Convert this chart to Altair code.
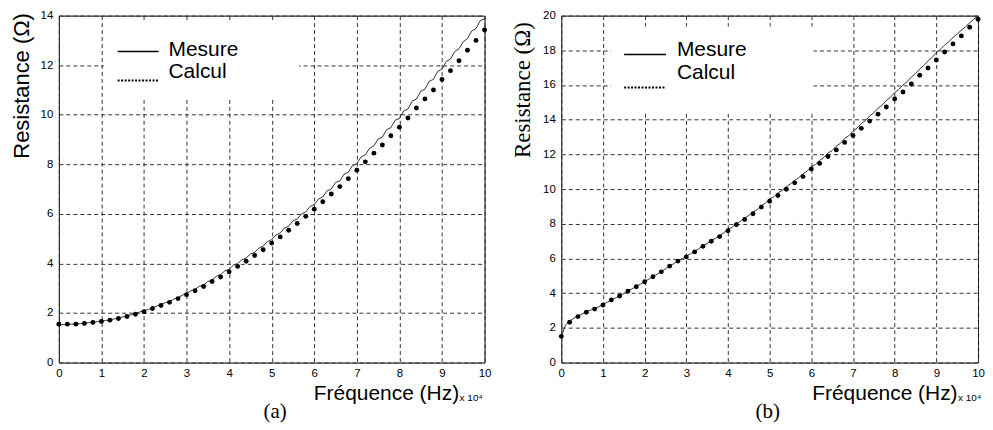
import altair as alt
import pandas as pd

# ---------------- data (frequency in units of 10^4 Hz, resistance in ohm) ----------------
F_CALC = [0.0, 0.2, 0.4, 0.6, 0.8, 1.0, 1.2, 1.4, 1.6, 1.8,
          2.0, 2.2, 2.4, 2.6, 2.8, 3.0, 3.2, 3.4, 3.6, 3.8,
          4.0, 4.2, 4.4, 4.6, 4.8, 5.0, 5.2, 5.4, 5.6, 5.8,
          6.0, 6.2, 6.4, 6.6, 6.8, 7.0, 7.2, 7.4, 7.6, 7.8,
          8.0, 8.2, 8.4, 8.6, 8.8, 9.0, 9.2, 9.4, 9.6, 9.8, 10.0]

F_MES = [0.0, 0.1, 0.2, 0.3, 0.4, 0.5, 0.6, 0.7, 0.8, 0.9,
         1.0, 1.1, 1.2, 1.3, 1.4, 1.5, 1.6, 1.7, 1.8, 1.9,
         2.0, 2.1, 2.2, 2.3, 2.4, 2.5, 2.6, 2.7, 2.8, 2.9,
         3.0, 3.1, 3.2, 3.3, 3.4, 3.5, 3.6, 3.7, 3.8, 3.9,
         4.0, 4.1, 4.2, 4.3, 4.4, 4.5, 4.6, 4.7, 4.8, 4.9,
         5.0, 5.1, 5.2, 5.3, 5.4, 5.5, 5.6, 5.7, 5.8, 5.9,
         6.0, 6.1, 6.2, 6.3, 6.4, 6.5, 6.6, 6.7, 6.8, 6.9,
         7.0, 7.1, 7.2, 7.3, 7.4, 7.5, 7.6, 7.7, 7.8, 7.9,
         8.0, 8.1, 8.2, 8.3, 8.4, 8.5, 8.6, 8.7, 8.8, 8.9,
         9.0, 9.1, 9.2, 9.3, 9.4, 9.5, 9.6, 9.7, 9.8, 9.9, 10.0]

# panel (a)
R_CALC_A = [1.55, 1.55, 1.55, 1.58, 1.62, 1.66, 1.71, 1.78, 1.86, 1.95,
            2.05, 2.18, 2.30, 2.43, 2.58, 2.74, 2.90, 3.07, 3.27, 3.45,
            3.66, 3.88, 4.09, 4.32, 4.55, 4.82, 5.07, 5.34, 5.61, 5.90,
            6.19, 6.49, 6.80, 7.10, 7.42, 7.76, 8.10, 8.45, 8.78, 9.15,
            9.50, 9.87, 10.27, 10.64, 11.00, 11.42, 11.78, 12.18, 12.60, 13.00, 13.42]

R_MES_A = [1.52, 1.53, 1.54, 1.55, 1.56, 1.57, 1.58, 1.61, 1.63, 1.65,
           1.67, 1.70, 1.72, 1.76, 1.80, 1.84, 1.88, 1.93, 1.98, 2.04,
           2.10, 2.14, 2.20, 2.28, 2.33, 2.42, 2.45, 2.56, 2.61, 2.72,
           2.78, 2.90, 2.95, 3.08, 3.13, 3.27, 3.33, 3.48, 3.55, 3.70,
           3.76, 3.93, 3.99, 4.15, 4.22, 4.38, 4.45, 4.62, 4.70, 4.88,
           4.96, 5.15, 5.23, 5.43, 5.50, 5.72, 5.79, 6.00, 6.08, 6.30,
           6.38, 6.60, 6.68, 6.93, 7.00, 7.27, 7.33, 7.60, 7.68, 7.95,
           8.03, 8.30, 8.38, 8.65, 8.74, 9.02, 9.10, 9.40, 9.48, 9.78,
           9.85, 10.15, 10.23, 10.55, 10.63, 10.95, 11.03, 11.35, 11.43, 11.75,
           11.84, 12.15, 12.25, 12.55, 12.66, 12.95, 13.07, 13.38, 13.48, 13.80, 13.88]

# panel (b)
R_CALC_B = [1.51, 2.32, 2.65, 2.90, 3.08, 3.32, 3.61, 3.84, 4.12, 4.37,
            4.66, 4.95, 5.23, 5.56, 5.85, 6.09, 6.38, 6.70, 6.99, 7.26,
            7.60, 7.95, 8.25, 8.58, 8.96, 9.30, 9.63, 9.99, 10.36, 10.72,
            11.16, 11.48, 11.88, 12.26, 12.69, 13.09, 13.50, 13.92, 14.32, 14.73,
            15.20, 15.60, 16.06, 16.56, 16.98, 17.44, 17.90, 18.37, 18.83, 19.33, 19.79]

R_MES_B = [1.50, 2.15, 2.40, 2.55, 2.68, 2.80, 2.92, 3.02, 3.12, 3.22,
           3.35, 3.47, 3.62, 3.72, 3.87, 3.98, 4.14, 4.25, 4.40, 4.52,
           4.68, 4.80, 4.97, 5.09, 5.26, 5.39, 5.58, 5.70, 5.88, 5.98,
           6.14, 6.27, 6.42, 6.56, 6.74, 6.86, 7.04, 7.16, 7.32, 7.48,
           7.68, 7.80, 8.02, 8.14, 8.33, 8.48, 8.67, 8.82, 9.05, 9.19,
           9.42, 9.56, 9.78, 9.92, 10.14, 10.30, 10.50, 10.66, 10.88, 11.04,
           11.28, 11.42, 11.66, 11.82, 12.08, 12.22, 12.48, 12.64, 12.92, 13.08,
           13.34, 13.52, 13.78, 13.95, 14.22, 14.40, 14.66, 14.84, 15.10, 15.30,
           15.56, 15.74, 16.00, 16.20, 16.46, 16.66, 16.92, 17.13, 17.38, 17.60,
           17.86, 18.07, 18.30, 18.50, 18.74, 18.94, 19.16, 19.36, 19.58, 19.80, 20.00]

X_TICKS = [0, 1, 2, 3, 4, 5, 6, 7, 8, 9, 10]
Y_TICKS_A = [0, 2, 4, 6, 8, 10, 12, 14]
Y_TICKS_B = [0, 2, 4, 6, 8, 10, 12, 14, 16, 18, 20]
LEGEND = ["Mesure", "Calcul"]
X_TITLE = "Fréquence (Hz)"
Y_TITLE = "Resistance (Ω)"
X_EXP = "x 10⁴"
PANEL_LABELS = ["(a)", "(b)"]

SANS = "Liberation Sans"
SERIF = "Liberation Serif"
H = 348
ONE = pd.DataFrame({"k": [0]})


def panel(r_mes, r_calc, ymax, yticks, width, yfont, ysize, ytx, yty, xtx, lg, label, label_x):
    mes = pd.DataFrame({"f": F_MES, "r": r_mes})
    calc = pd.DataFrame({"f": F_CALC, "r": r_calc})

    xaxis = alt.Axis(values=X_TICKS, tickCount=len(X_TICKS), format="d", title=X_TITLE,
                     titleX=xtx, titleY=37,
                     titleAlign="right", titleBaseline="alphabetic", titleFont=SANS,
                     titleFontSize=21, titleFontWeight="normal", titleColor="#000",
                     labelFont=SANS, labelFontSize=11.5, labelPadding=5, labelColor="#000",
                     labelFlush=False, labelOverlap=False, ticks=False, tickSize=0,
                     domain=False, grid=True, gridDash=[4, 3], gridColor="#333",
                     gridOpacity=1, gridWidth=1)
    yaxis = alt.Axis(values=yticks, tickCount=len(yticks), format="d", title=Y_TITLE,
                     titleX=ytx, titleY=yty,
                     titleAngle=270, titleAlign="right", titleBaseline="alphabetic",
                     titleFont=yfont, titleFontSize=ysize, titleFontWeight="normal",
                     titleColor="#000", labelFont=SANS, labelFontSize=11.5, labelPadding=6,
                     labelColor="#000", labelFlush=False, labelOverlap=False, ticks=False,
                     tickSize=0, domain=False, grid=True, gridDash=[4, 3], gridColor="#333",
                     gridOpacity=1, gridWidth=1)

    x = alt.X("f:Q", scale=alt.Scale(domain=[0, 10], nice=False, zero=False), axis=xaxis)
    y = alt.Y("r:Q", scale=alt.Scale(domain=[0, ymax], nice=False, zero=False), axis=yaxis)

    # white legend background, drawn as one thick horizontal rule
    box = alt.Chart(ONE).mark_rule(color="white", strokeCap="butt",
                                   strokeWidth=lg["by1"] - lg["by0"]).encode(
        x=alt.value(lg["bx0"]), x2=alt.value(lg["bx1"]),
        y=alt.value((lg["by0"] + lg["by1"]) / 2))
    line = alt.Chart(mes).mark_line(color="#333", strokeWidth=1).encode(x=x, y=y)
    dots = alt.Chart(calc).mark_circle(color="#000", size=24, opacity=1).encode(
        x="f:Q", y="r:Q")
    s1 = alt.Chart(ONE).mark_rule(color="#000", strokeWidth=1.6).encode(
        x=alt.value(lg["sx0"]), x2=alt.value(lg["sx1"]), y=alt.value(lg["sy1"]))
    s2 = alt.Chart(ONE).mark_rule(color="#000", strokeWidth=2, strokeDash=[2, 1.5]).encode(
        x=alt.value(lg["sx0"]), x2=alt.value(lg["sx1"]), y=alt.value(lg["sy2"]))
    t1 = alt.Chart(ONE).mark_text(align="left", baseline="alphabetic", font=SANS,
                                  fontSize=21, color="#000").encode(
        x=alt.value(lg["tx"]), y=alt.value(lg["ty1"]), text=alt.value(LEGEND[0]))
    t2 = alt.Chart(ONE).mark_text(align="left", baseline="alphabetic", font=SANS,
                                  fontSize=21, color="#000").encode(
        x=alt.value(lg["tx"]), y=alt.value(lg["ty2"]), text=alt.value(LEGEND[1]))
    exp = alt.Chart(ONE).mark_text(align="left", baseline="alphabetic", font=SANS,
                                   fontSize=10, color="#000").encode(
        x=alt.value(xtx + 1), y=alt.value(H + 39), text=alt.value(X_EXP))
    lab = alt.Chart(ONE).mark_text(align="center", baseline="alphabetic", font=SERIF,
                                   fontSize=21, color="#000").encode(
        x=alt.value(label_x), y=alt.value(H + 56), text=alt.value(label))

    return alt.layer(box, line, dots, s1, s2, t1, t2, exp, lab).properties(
        width=width, height=H)


left = panel(R_MES_A, R_CALC_A, 14, Y_TICKS_A, 427, SANS, 22, -30, -3, 401,
             dict(bx0=45, bx1=241, by0=7, by1=84, sx0=59, sx1=100, sy1=36, sy2=65,
                  tx=110, ty1=41, ty2=63), PANEL_LABELS[0], 217)
right = panel(R_MES_B, R_CALC_B, 20, Y_TICKS_B, 418, SERIF, 23, -32, 6, 397,
              dict(bx0=50, bx1=253, by0=11, by1=96, sx0=63, sx1=105, sy1=39, sy2=72,
                   tx=116, ty1=41, ty2=64), PANEL_LABELS[1], 207)

chart = alt.hconcat(left, right, spacing=19).properties(
    padding={"left": 2, "top": 0, "right": 0, "bottom": 0},
    background="white",
).configure_view(stroke="#000", strokeWidth=1)

chart.save("out.html", embed_options={"renderer": "svg", "actions": False})
